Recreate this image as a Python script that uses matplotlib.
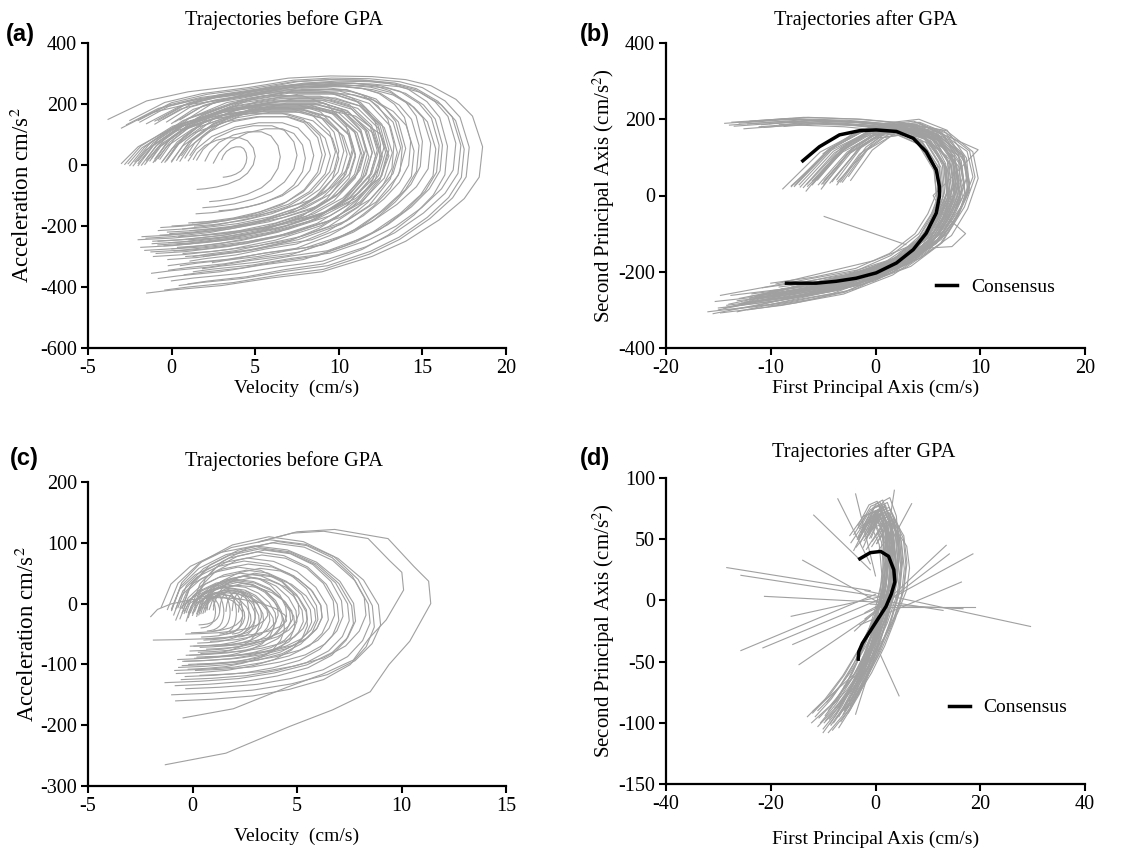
import numpy as np
import matplotlib
matplotlib.use("Agg")
import matplotlib.pyplot as plt

plt.rcParams['font.family'] = ['Liberation Serif', 'DejaVu Serif']
plt.rcParams['mathtext.fontset'] = 'stix'
plt.rcParams['axes.unicode_minus'] = False

GRAY = '#a0a0a0'

# ---------------- panel (a): before GPA, normalised template shapes ----------------
a_tpl_high_u = [0, .103, .214, .348, .482, .594, .705, .795, .862, .929, .973, 1.0,
                .991, .951, .884, .795, .705, .571, .4375, .304, .170, .103]
a_tpl_high_v = [.80, .885, .927, .955, .990, 1.0, .997, .983, .955, .892, .815, .674,
                .534, .435, .337, .239, .169, .098, .070, .035, .014, 0.0]
a_tpl_low_u = [0, .0625, .1875, .375, .5625, .75, .875, .969, 1.0, .969, .875, .75,
               .5625, .375, .1875, .0625]
a_tpl_low_v = [.579, .706, .845, .949, .995, .995, .938, .799, .637, .475, .312, .197,
               .104, .046, .012, 0.0]
# (template, left x, right x, bottom y, top y)
a_traj = [
    (0, -3.8, 18.6, -420, 292), (0, -2.5, 17.8, -410, 285), (0, -2.0, 17.3, -380, 280),
    (0, -1.0, 16.0, -360, 270), (0, -0.5, 17.0, -350, 275), (0, -2.0, 15.5, -330, 265),
    (0, 0.5, 14.3, -300, 260), (0, -1.0, 13.8, -330, 250), (0, 0.0, 12.5, -300, 245),
    (0, -0.8, 16.5, -390, 280), (0, 1.0, 15.0, -320, 270), (0, -3.0, 14.5, -355, 240),
    (0, -1.5, 17.5, -395, 268), (0, 0.2, 16.2, -340, 262),
    (0, -2.7, 15.8, -372, 258), (0, -0.3, 13.3, -315, 255), (0, -1.9, 14.8, -345, 262),
    (1, -3.0, 13.0, -245, 187), (1, -2.8, 12.5, -270, 200), (1, -2.0, 12.0, -250, 205),
    (1, -1.5, 11.5, -230, 190), (1, -0.5, 12.8, -260, 215), (1, -1.0, 11.0, -220, 180),
    (1, 0.0, 10.5, -210, 175), (1, -2.3, 10.0, -240, 170), (1, -1.8, 12.2, -290, 210),
    (1, -0.6, 9.5, -200, 160), (1, 0.5, 9.0, -190, 160), (1, -2.5, 11.8, -280, 200),
    (1, -1.2, 10.8, -265, 230), (1, 0.0, 13.5, -300, 235), (1, -1.5, 9.8, -215, 190),
    (1, -0.3, 11.3, -235, 195), (1, 1.0, 8.5, -160, 140), (1, 1.5, 7.5, -140, 130),
    (1, 2.0, 6.5, -120, 110), (1, 1.3, 5.0, -80, 90), (1, 3.0, 4.5, -40, 60),
    (1, -1.0, 12.3, -255, 220), (1, -2.0, 12.6, -300, 215), (1, 0.3, 12.0, -245, 205),
    (1, -0.8, 10.3, -225, 200), (1, -1.6, 11.0, -250, 185), (1, -2.2, 13.2, -285, 225),
    (1, -0.4, 11.7, -270, 212), (1, 0.8, 10.0, -200, 185), (1, -1.1, 12.9, -310, 240),
    (1, -0.9, 13.7, -275, 245), (1, -1.7, 12.4, -262, 228), (1, 0.4, 11.6, -215, 200),
    (1, -2.6, 10.7, -235, 178), (1, -0.2, 14.0, -290, 250), (1, 1.1, 12.7, -230, 222),
    (1, -1.3, 9.2, -205, 172), (1, -0.7, 13.0, -282, 238), (1, 0.6, 10.9, -190, 192),
    (1, 2.5, 8.0, -150, 120), (1, -2.0, 11.4, -258, 196),
]

# ---------------- panel (b): after GPA ----------------
b_tpl0_u = [.308, .462, .615, .769, .897, .985, 1.0, .949, .872, .718, .513, .256, 0.0]
b_tpl0_v = [.670, .871, .978, 1.0, .938, .781, .603, .469, .335, .201, .100, .040, 0.0]
b_tpl1_u = [.045, .273, .5, .682, .864, .977, 1.0, .955, .886, .75, .545, .273, 0.0]
b_tpl1_v = [.979, 1.0, .990, .969, .928, .814, .670, .505, .361, .237, .144, .072, 0.0]
b_traj = [
    (0, -12, 7.5, -270, 178), (0, -11, 7.0, -260, 170), (0, -13, 8.0, -285, 185),
    (0, -10, 6.5, -250, 165), (0, -9, 6.8, -245, 175), (0, -14, 7.8, -300, 190),
    (0, -8, 6.0, -240, 160), (0, -12.5, 8.5, -280, 195), (0, -11.5, 6.2, -265, 172),
    (0, -10.5, 7.3, -275, 182), (0, -9.5, 8.2, -255, 188), (0, -13.5, 7.0, -290, 176),
    (0, -7.5, 6.6, -235, 168), (0, -12, 9.0, -265, 200), (0, -15, 7.6, -295, 180),
    (0, -10, 5.8, -230, 158), (0, -11, 8.8, -270, 192), (0, -8.5, 7.1, -250, 185),
    (0, -12.8, 6.4, -282, 170), (0, -9.8, 7.9, -262, 178), (0, -14.2, 6.9, -288, 183),
    (0, -11.8, 7.7, -258, 190), (0, -13.2, 8.6, -276, 172), (0, -10.8, 6.3, -242, 180),
    (0, -16, 7.2, -305, 176), (0, -6.5, 6.9, -225, 170), (0, -14.8, 8.1, -308, 187),
    (0, -7, 7.4, -238, 192), (0, -12.2, 5.9, -300, 165), (0, -9.2, 8.9, -240, 172),
    (0, -13.8, 6.8, -262, 179), (0, -8.2, 7.6, -270, 186), (0, -15.3, 8.3, -278, 175),
    (0, -10.2, 6.1, -290, 168),
    (1, -14, 8, -285, 200), (1, -15, 8.5, -300, 195), (1, -13, 9.5, -270, 205),
    (1, -12, 7.8, -275, 190), (1, -15.5, 9, -310, 200), (1, -11, 8.7, -260, 198),
    (1, -13.5, 7.5, -290, 185), (1, -12.5, 9.8, -280, 205), (1, -10, 8.3, -255, 195),
    (1, -14.5, 8.0, -295, 192), (1, -11.5, 7.2, -265, 188), (1, -13.2, 8.9, -305, 198),
    (1, -9.5, 7.6, -232, 190), (1, -14.8, 9.3, -262, 202), (1, -11.8, 8.4, -292, 196),
]
b_extra_x = [[-5, -2, 1, 5, 9.8, 7, 5.5, 6.5, 8.6, 7.3, 4.9, 1, -4, -10],
             [-4.9, 2.9]]
b_extra_y = [[110, 165, 188, 178, 120, 40, 0, -50, -100, -134, -138, -175, -220, -255],
             [-55, -129]]
b_cons_x = [-6.94, -5.35, -3.44, -1.53, 0.06, 2.0, 3.6, 4.84, 5.8, 6.1, 6.1, 5.8, 4.84,
            3.6, 2.0, 0.06, -1.85, -3.76, -5.67, -8.5]
b_cons_y = [91, 128, 159, 170, 172, 168, 150, 115, 67, 24, -3, -46, -99, -142, -177,
            -203, -217, -225, -230, -230]

# ---------------- panel (c): before GPA ----------------
c_tpl0_u = [0.0, 0.05, 0.15, 0.30, 0.48, 0.65, 0.80, 0.92, 0.99, 1.00, 0.96, 0.88,
            0.75, 0.58, 0.40, 0.20, 0.02]
c_tpl0_v = [0.55, 0.72, 0.85, 0.95, 1.00, 0.97, 0.88, 0.74, 0.58, 0.45, 0.33, 0.22,
            0.13, 0.07, 0.03, 0.01, 0.00]
c_tpl1_u = [.35, .496, .638, .839, .937, .992, 1.0, .921, .843, .772, .630, .469, .228, 0.0]
c_tpl1_v = [.946, .990, 1.0, .961, .842, .780, .685, .525, .426, .310, .233, .163, .049, 0.0]
c_traj = [
    (1, -1.3, 11.4, -265, 122), (1, -0.45, 10.1, -188, 119),
    (0, -1.0, 8.7, -160, 110), (0, -0.5, 8.5, -140, 100), (0, -1.5, 7.8, -130, 95),
    (0, -0.5, 7.0, -120, 85), (0, -1.0, 6.5, -110, 75), (0, -0.8, 6.0, -105, 70),
    (0, -0.3, 5.7, -100, 55), (0, -0.5, 5.3, -95, 50), (0, 0.0, 5.0, -90, 45),
    (0, -0.4, 4.7, -85, 40), (0, 0.2, 4.3, -80, 35), (0, -0.2, 4.0, -78, 30),
    (0, 0.3, 3.7, -72, 25), (0, 0.0, 3.4, -70, 22), (0, 0.5, 3.0, -60, 20),
    (0, 0.2, 2.8, -65, 15), (0, 0.4, 2.5, -55, 15),
    (0, 0.4, 1.1, -40, 15), (0, 0.7, 1.5, -45, 18), (0, 1.0, 1.8, -45, 18),
    (0, 1.3, 2.1, -50, 20), (0, 1.6, 2.4, -50, 18), (0, 1.9, 2.7, -50, 20),
    (0, 2.2, 3.0, -55, 20), (0, 0.3, 1.3, -35, 12),
    (0, -1.2, 9.0, -150, 105), (0, -0.7, 7.5, -125, 90), (0, 0.1, 6.8, -100, 80),
    (0, -0.9, 5.5, -115, 60), (0, 0.6, 4.5, -75, 45), (0, -0.6, 6.2, -95, 65),
    (0, 0.0, 7.2, -110, 88), (0, -2.0, 4.5, -60, 10), (0, -0.2, 3.2, -85, 28),
    (0, 0.1, 5.9, -88, 48), (0, -0.6, 4.9, -102, 38),
    (0, -0.2, 4.8, -70, 30), (0, 0.3, 5.5, -82, 42), (0, -0.8, 3.9, -92, 26),
    (0, 0.5, 6.2, -88, 58), (0, -0.4, 3.6, -50, 18), (0, 0.8, 4.1, -62, 33),
    (0, -0.1, 2.4, -48, 12), (0, 0.6, 3.3, -58, 22), (0, -1.0, 7.7, -135, 92),
    (0, 0.2, 8.3, -118, 102), (0, -0.3, 4.4, -108, 36), (0, 1.0, 5.1, -70, 50),
]

# ---------------- panel (d): after GPA ----------------
d_tpl_u = [.522, .696, .826, .957, 1.0, .957, .826, .652, .435, .217, 0.0]
d_tpl_v = [.886, .983, 1.0, .914, .771, .629, .486, .343, .2, .086, 0.0]
d_traj = [
    (-8, 3.5, -100, 75), (-10, 3, -105, 70), (-6, 4, -90, 80), (-12, 2, -92, 65),
    (-9, 5, -108, 72), (-7, 2.5, -95, 78), (-5, 3, -80, 68), (-11, 4.5, -103, 76),
    (-6.5, 1.5, -85, 60), (-9.5, 3.8, -98, 74), (-4, 4.2, -75, 70), (-8.5, 2.2, -102, 66),
    (-7.5, 5.5, -96, 62), (-10.5, 3.3, -100, 80), (-5.5, 2.8, -88, 72), (-6, 6.5, -70, 55),
    (-9, 1.8, -90, 70), (-7, 3.6, -104, 77), (-3, 4.5, -65, 65), (-11.5, 2.6, -95, 73),
    (-8, 4, -85, 58), (-6.8, 3.1, -92, 82), (-4.5, 2, -78, 75), (-9.8, 4.8, -100, 68),
    (-7.2, 2.9, -88, 71), (-5, 5, -82, 63), (-8.8, 3.2, -97, 79), (-6.2, 2.3, -93, 69),
    (-13, 2.5, -95, 72), (-7.8, 6, -88, 66), (-10, 1.2, -108, 60), (-5.2, 4.4, -92, 84),
    (-9.3, 2.7, -83, 77), (-6.6, 3.9, -99, 70), (-11, 3.4, -90, 68), (-4.8, 3.3, -86, 78),
    (-8.2, 5.2, -106, 74), (-12.2, 4.1, -100, 62), (-7.4, 1.6, -80, 73), (-9.6, 2.4, -94, 81),
    (-5.8, 5.8, -90, 64), (-10.8, 3.9, -96, 71), (-6.9, 4.6, -84, 76), (-8.7, 1.9, -101, 69),
]
# (inner x, inner y, outer x, outer y)
d_spikes = [
    (-1, 8, -28.4, 26.8), (1, 3, -25.7, 20.5), (3, -2, -21.2, 3.3), (0, 5, -25.7, -41),
    (2, 3, -21.5, -38.8), (3, 5, -16.1, -13), (1, -5, -15.8, -36), (0, -10, -14.6, -52.5),
    (-4, -60, -12, -90.7), (2, -5, -13.9, 32.8), (-1, 25, -11.8, 69.7), (-1, 30, -7.2, 83),
    (0, 20, -3.8, 87), (2, 45, 3.6, 90), (2, 40, 6.9, 79), (-2, -10, 18.6, 38),
    (-3, -20, 16.4, 15), (0, -5, 19, -5), (-2, 8, 29.6, -21.3), (1, 0, 12.9, -8.2),
    (-1, -3, 16.7, -6.8), (-4, -25, 13.5, 45), (-2, -15, 14.1, 38), (1, -45, 4.5, -78),
    (-1, -55, -3.8, -93),
]
d_cons_x = [-3, -1, 1, 2.5, 3.5, 3.7, 3, 2, 0.5, -1, -2.5, -3.2, -3.3]
d_cons_y = [34, 39, 40, 36, 25, 15, 5, -5, -15, -25, -35, -42, -48]


def shape(tu, tv, xl, xr, yb, yt):
    tu = np.asarray(tu)
    tv = np.asarray(tv)
    return xl + tu * (xr - xl), yb + tv * (yt - yb)


def style(ax, xlim, xt, ylim, yt):
    ax.set_xlim(*xlim)
    ax.set_ylim(*ylim)
    ax.set_xticks(xt)
    ax.set_yticks(yt)
    for s in ['top', 'right']:
        ax.spines[s].set_visible(False)
    for s in ['left', 'bottom']:
        ax.spines[s].set_linewidth(1.6)
    ax.tick_params(direction='out', length=5, width=1.5, labelsize=14.5, pad=3)


fig = plt.figure(figsize=(11.46, 8.51), dpi=100)
W, H = 1146, 851


def add_axes(l, t, r, b):
    return fig.add_axes([l / W, 1 - b / H, (r - l) / W, (b - t) / H])


lw = 0.8

# (a)
ax = add_axes(88, 43, 506, 348)
tpls = [(a_tpl_high_u, a_tpl_high_v), (a_tpl_low_u, a_tpl_low_v)]
for k, xl, xr, yb, yt in a_traj:
    x, y = shape(*tpls[k], xl, xr, yb, yt)
    ax.plot(x, y, color=GRAY, lw=lw)
style(ax, (-5, 20), [-5, 0, 5, 10, 15, 20], (-600, 400), range(-600, 401, 200))
ax.set_xlabel('Velocity  (cm/s)', fontsize=14, labelpad=1)
ax.set_ylabel('Acceleration cm/s$^2$', fontsize=16.5, labelpad=4)

# (b)
ax = add_axes(666, 43, 1085, 348)
tpls = [(b_tpl0_u, b_tpl0_v), (b_tpl1_u, b_tpl1_v)]
for k, xl, xr, yb, yt in b_traj:
    x, y = shape(*tpls[k], xl, xr, yb, yt)
    ax.plot(x, y, color=GRAY, lw=lw)
for x, y in zip(b_extra_x, b_extra_y):
    ax.plot(x, y, color=GRAY, lw=lw)
ax.plot(b_cons_x, b_cons_y, color='black', lw=2.5, label='Consensus')
style(ax, (-20, 20), [-20, -10, 0, 10, 20], (-400, 400), range(-400, 401, 200))
ax.set_xlabel('First Principal Axis (cm/s)', fontsize=14, labelpad=1)
ax.set_ylabel('Second Principal Axis (cm/s$^2$)', fontsize=15, labelpad=1)
ax.legend(frameon=False, loc='center right', bbox_to_anchor=(0.97, 0.2),
          fontsize=14, handlelength=1.1, handletextpad=0.7)

# (c)
ax = add_axes(88, 482, 506, 786)
tpls = [(c_tpl0_u, c_tpl0_v), (c_tpl1_u, c_tpl1_v)]
for k, xl, xr, yb, yt in c_traj:
    x, y = shape(*tpls[k], xl, xr, yb, yt)
    ax.plot(x, y, color=GRAY, lw=lw)
style(ax, (-5, 15), [-5, 0, 5, 10, 15], (-300, 200), range(-300, 201, 100))
ax.set_xlabel('Velocity  (cm/s)', fontsize=14, labelpad=8)
ax.set_ylabel('Acceleration cm/s$^2$', fontsize=16.5, labelpad=1)

# (d)
ax = add_axes(666, 478, 1085, 784)
for xl, xr, yb, yt in d_traj:
    x, y = shape(d_tpl_u, d_tpl_v, xl, xr, yb, yt)
    ax.plot(x, y, color=GRAY, lw=lw)
for x0, y0, x1, y1 in d_spikes:
    ax.plot([x0, x1], [y0, y1], color=GRAY, lw=lw)
ax.plot(d_cons_x, d_cons_y, color='black', lw=2.5, label='Consensus')
style(ax, (-40, 40), [-40, -20, 0, 20, 40], (-150, 100), range(-150, 101, 50))
ax.set_xlabel('First Principal Axis (cm/s)', fontsize=14, labelpad=12)
ax.set_ylabel('Second Principal Axis (cm/s$^2$)', fontsize=15, labelpad=1)
ax.legend(frameon=False, loc='center right', bbox_to_anchor=(1.0, 0.25),
          fontsize=14, handlelength=1.1, handletextpad=0.7)

# titles and panel letters
for x, y, t in [(284, 20, 'Trajectories before GPA'), (866, 20, 'Trajectories after GPA'),
                (284, 461, 'Trajectories before GPA'), (864, 452, 'Trajectories after GPA')]:
    fig.text(x / W, 1 - y / H, t, ha='center', va='center', fontsize=14.7)
for x, y, t in [(6, 34, '(a)'), (580, 34, '(b)'), (10, 458, '(c)'), (580, 458, '(d)')]:
    fig.text(x / W, 1 - y / H, t, ha='left', va='center', fontsize=17,
             fontweight='bold', family='Liberation Sans')

fig.savefig('out.png', dpi=100)
